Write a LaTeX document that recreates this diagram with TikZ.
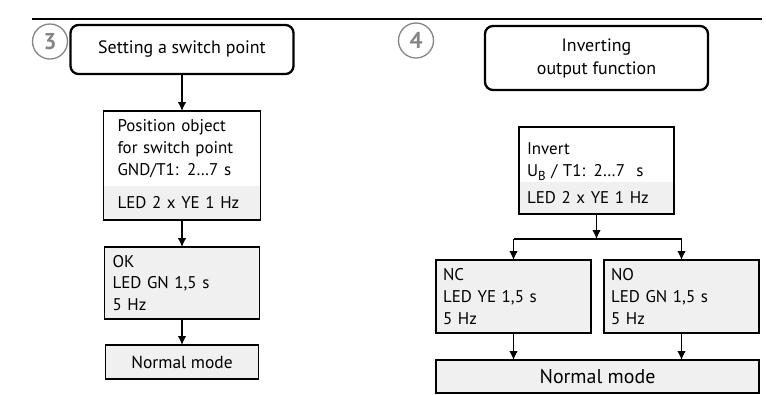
\documentclass[tikz,border=0pt]{standalone}
\usepackage{fontspec}
\setmainfont{PT Sans}
\usetikzlibrary{arrows.meta,positioning}

\definecolor{numgray}{HTML}{858585}
\colorlet{boxgray}{gray!12}

\newcommand{\lowidx}[1]{\raisebox{-0.4ex}{\fontsize{13}{13}\selectfont #1}}

\begin{document}
\begin{tikzpicture}[x=1bp,y=1bp,>={Latex[length=9bp,width=8.5bp]},line width=1.3bp,
    every node/.style={font=\fontsize{17}{22}\selectfont,outer sep=0pt},
    numcircle/.style={circle,draw=numgray,text=numgray,line width=1.3bp,
      minimum size=35bp,inner sep=0pt,font=\fontsize{23}{23}\selectfont\bfseries},
    startbox/.style={draw,rounded corners=8bp,line width=2.3bp,
      minimum width=223bp,align=center},
    upperbox/.style={text width=#1,align=left,inner xsep=8bp,inner ysep=0pt},
    ledbox/.style={fill=boxgray,text width=#1,align=left,inner xsep=8bp,
      inner ysep=0pt},
    stepbox/.style={draw,fill=boxgray,text width=#1,align=left,inner xsep=8bp,
      inner ysep=0pt},
    endbox/.style={draw,fill=boxgray,minimum width=#1,inner ysep=0pt}]

    \useasboundingbox (0,0) rectangle (766,-394);
    \draw[line width=1.2bp] (32,-19) -- (762,-19);

    %left column
    \node[numcircle] (n_3) at (50,-41.5) {3};
    \node[startbox,minimum height=49bp,font=\fontsize{18}{22}\selectfont] (set_sp) at (182,-49.5)
      {Setting a switch point};
    \node[upperbox=129bp,inner xsep=14bp,minimum height=75bp] (pos) [below =37bp of set_sp]
      {Position object\\for switch point\\GND/T1: 2…7 s};
    \node[ledbox=129bp,inner xsep=14bp,minimum height=34bp] (pos_led) [below =0pt of pos]
      {LED 2 x YE 1 Hz};
    \draw (pos.north west) rectangle (pos_led.south east);
    \node[stepbox=139bp,minimum height=72bp] (ok) [below =27bp of pos_led]
      {OK\\LED GN 1,5 s\\5 Hz};
    \node[endbox=153bp,minimum height=34bp,font=\fontsize{17.5}{17.5}\selectfont] (norm_l)
      [below =26bp of ok] {Normal mode};

    \path[->]
    (set_sp) edge (pos)
    (pos_led) edge (ok)
    (ok) edge (norm_l);

    %right column
    \node[numcircle] (n_4) at (416,-40.5) {4};
    \node[startbox,minimum height=64bp,font=\fontsize{18}{23}\selectfont] (inv_start) at (596.5,-58)
      {Inverting\\output function};
    \node[upperbox=139bp,minimum height=55bp] (inv) [below =37bp of inv_start]
      {\rule{0pt}{26bp}Invert\\U\lowidx{B} / T1: 2…7\ \ s};
    \node[ledbox=139bp,minimum height=32bp] (inv_led) [below =0pt of inv]
      {LED 2 x YE 1 Hz};
    \draw (inv.north west) rectangle (inv_led.south east);

    %split NC / NO
    \coordinate (fork) at ([yshift=-25bp]inv_led.south);
    \node[stepbox=141bp,inner xsep=7bp,minimum height=73bp,anchor=north] (nc) at (513.5,-260)
      {NC\\LED YE 1,5 s\\5 Hz};
    \node[stepbox=141bp,inner xsep=7bp,minimum height=73bp,anchor=north] (no) at (681.5,-260)
      {NO\\LED GN 1,5 s\\5 Hz};
    \coordinate (fork_l) at (fork -| nc.north);
    \coordinate (fork_r) at (fork -| no.north);
    \node[endbox=323bp,minimum height=33bp,anchor=north,font=\fontsize{20}{20}\selectfont]
      (norm_r) at (597.5,-360) {Normal mode};

    \draw[->] (inv_led) -- (fork);
    \draw (fork_l) -- (fork_r);
    \path[->]
    (fork_l) edge (nc)
    (fork_r) edge (no)
    (nc) edge (nc |- norm_r.north)
    (no) edge (no |- norm_r.north);

\end{tikzpicture}
\end{document}
